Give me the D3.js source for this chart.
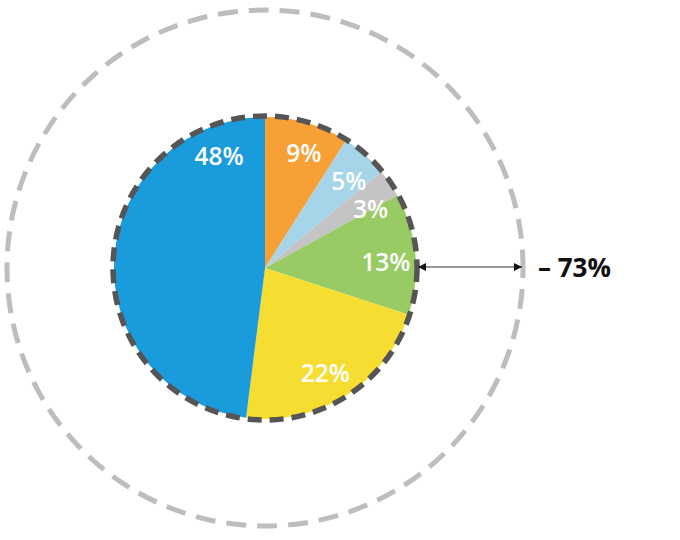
<!DOCTYPE html>
<html><head><meta charset="utf-8">
<script src="https://cdn.jsdelivr.net/npm/d3@7"></script>
<style>body{margin:0;background:#fff}svg{display:block}text{font-family:"Open Sans",sans-serif}</style>
</head><body>
<svg id="c" width="680" height="540"></svg>
<script>
const categories = ["A","B","C","D","E","F"];
const values = [9, 5, 3, 13, 22, 48];
const colors = ["#f7a035","#a6d5ea","#c4c4c4","#98cb63","#f5dd32","#1a9bdb"];
const totalLabel = "– 73%";

const svg = d3.select("#c");
const cx = 265, cy = 268, r = 151, R = 258;
const g = svg.append("g").attr("transform", `translate(${cx},${cy})`);

const pie = d3.pie().sort(null).value(d => d)(values);
const arc = d3.arc().innerRadius(0).outerRadius(r);
g.selectAll("path.s").data(pie).join("path").attr("class","s")
  .attr("d", arc).attr("fill", (d,i) => colors[i]);

g.append("circle").attr("r", r+1).attr("fill","none").attr("stroke","#555")
  .attr("stroke-width",5.5).attr("stroke-dasharray","14 8");
g.append("circle").attr("r", R).attr("fill","none").attr("stroke","#bdbdbd")
  .attr("stroke-width",5).attr("stroke-dasharray","20 11").attr("stroke-dashoffset", 10);

const lr = 121, deg = Math.PI/180;
g.selectAll("text.l").data(pie).join("text").attr("class","l")
  .attr("transform", d => {
    const span = d.endAngle - d.startAngle;
    let a = (d.startAngle + d.endAngle)/2 + 2.5*deg;
    if (span > 0.4*Math.PI*2) a = d.endAngle - 0.062*Math.PI*2;
    if (span < 0.04*Math.PI*2) a += 2.5*deg;
    return `translate(${lr*Math.sin(a)},${-lr*Math.cos(a)})`;
  })
  .attr("text-anchor","middle").attr("dy","0.36em")
  .attr("fill","#fff").attr("font-size",24.5).attr("font-weight",600)
  .text(d => d.data + "%");

// arrow
const defs = svg.append("defs");
defs.append("marker").attr("id","ah").attr("viewBox","0 0 10 10").attr("refX",10).attr("refY",5)
  .attr("markerWidth",9).attr("markerHeight",8).attr("orient","auto-start-reverse")
  .attr("markerUnits","userSpaceOnUse")
  .append("path").attr("d","M0,0L10,5L0,10z").attr("fill","#111");
g.append("line").attr("x1", r+2).attr("x2", R-1).attr("y1",-1).attr("y2",-1)
  .attr("stroke","#333").attr("stroke-width",1.2)
  .attr("marker-start","url(#ah)").attr("marker-end","url(#ah)");
svg.append("text").attr("x", 538).attr("y", 277).attr("font-size",26).attr("font-weight",700)
  .attr("fill","#111").text(totalLabel);
</script>
</body></html>
